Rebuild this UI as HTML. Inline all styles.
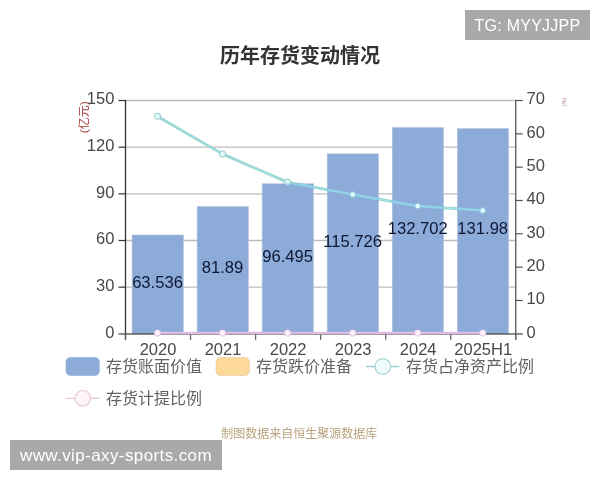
<!DOCTYPE html>
<html lang="zh"><head><meta charset="utf-8"><title>历年存货变动情况</title>
<style>
html,body{margin:0;padding:0;background:#fff;}
body{width:600px;height:480px;position:relative;overflow:hidden;font-family:"Liberation Sans","Noto Sans CJK SC",sans-serif;}
svg text{font-family:"Liberation Sans","Noto Sans CJK SC",sans-serif;}
.wm{position:absolute;background:#a9a9a9;color:#fff;font-size:16px;line-height:32px;height:30px;text-align:center;white-space:nowrap;}
#wm1{left:465px;top:10px;width:125px;letter-spacing:0.25px;}
#wm2{left:10px;top:440px;width:212px;font-size:17px;letter-spacing:0.4px;line-height:31px;}
</style></head><body>
<svg width="600" height="480" viewBox="0 0 600 480" style="position:absolute;left:0;top:0">
<rect width="600" height="480" fill="#fff"/>
<text x="300" y="63.4" text-anchor="middle" font-size="20" font-weight="bold" fill="#333" class="cj">历年存货变动情况</text>
<line x1="125.5" x2="515.75" y1="100.50" y2="100.50" stroke="#bcbcbc" stroke-width="1.3"/>
<line x1="125.5" x2="515.75" y1="147.16" y2="147.16" stroke="#bcbcbc" stroke-width="1.3"/>
<line x1="125.5" x2="515.75" y1="193.82" y2="193.82" stroke="#bcbcbc" stroke-width="1.3"/>
<line x1="125.5" x2="515.75" y1="240.48" y2="240.48" stroke="#bcbcbc" stroke-width="1.3"/>
<line x1="125.5" x2="515.75" y1="287.14" y2="287.14" stroke="#bcbcbc" stroke-width="1.3"/>
<rect x="132.07" y="234.98" width="51.3" height="98.82" fill="#8dabd9" stroke="#b9c6dc" stroke-width="0.6"/>
<rect x="197.11" y="206.43" width="51.3" height="127.37" fill="#8dabd9" stroke="#b9c6dc" stroke-width="0.6"/>
<rect x="262.15" y="183.72" width="51.3" height="150.08" fill="#8dabd9" stroke="#b9c6dc" stroke-width="0.6"/>
<rect x="327.20" y="153.81" width="51.3" height="179.99" fill="#8dabd9" stroke="#b9c6dc" stroke-width="0.6"/>
<rect x="392.24" y="127.40" width="51.3" height="206.40" fill="#8dabd9" stroke="#b9c6dc" stroke-width="0.6"/>
<rect x="457.28" y="128.53" width="51.3" height="205.27" fill="#8dabd9" stroke="#b9c6dc" stroke-width="0.6"/>
<line x1="118.5" x2="522.75" y1="334.0" y2="334.0" stroke="#000" stroke-opacity="0.6" stroke-width="1.3"/>
<line x1="125.5" x2="125.5" y1="99.9" y2="339.8" stroke="#333" stroke-width="1.3"/>
<line x1="515.75" x2="515.75" y1="99.9" y2="339.8" stroke="#555" stroke-width="1.3"/>
<line x1="118.5" x2="125.5" y1="100.50" y2="100.50" stroke="#333" stroke-width="1.2"/>
<text x="114.4" y="104.40" text-anchor="end" font-size="16.5" fill="#484848">150</text>
<line x1="118.5" x2="125.5" y1="147.16" y2="147.16" stroke="#333" stroke-width="1.2"/>
<text x="114.4" y="151.06" text-anchor="end" font-size="16.5" fill="#484848">120</text>
<line x1="118.5" x2="125.5" y1="193.82" y2="193.82" stroke="#333" stroke-width="1.2"/>
<text x="114.4" y="197.72" text-anchor="end" font-size="16.5" fill="#484848">90</text>
<line x1="118.5" x2="125.5" y1="240.48" y2="240.48" stroke="#333" stroke-width="1.2"/>
<text x="114.4" y="244.38" text-anchor="end" font-size="16.5" fill="#484848">60</text>
<line x1="118.5" x2="125.5" y1="287.14" y2="287.14" stroke="#333" stroke-width="1.2"/>
<text x="114.4" y="291.04" text-anchor="end" font-size="16.5" fill="#484848">30</text>
<text x="114.4" y="337.70" text-anchor="end" font-size="16.5" fill="#484848">0</text>
<line x1="515.75" x2="522.75" y1="100.50" y2="100.50" stroke="#555" stroke-width="1.2"/>
<text x="526.6" y="104.40" font-size="16.5" fill="#484848">70</text>
<line x1="515.75" x2="522.75" y1="133.83" y2="133.83" stroke="#555" stroke-width="1.2"/>
<text x="526.6" y="137.73" font-size="16.5" fill="#484848">60</text>
<line x1="515.75" x2="522.75" y1="167.16" y2="167.16" stroke="#555" stroke-width="1.2"/>
<text x="526.6" y="171.06" font-size="16.5" fill="#484848">50</text>
<line x1="515.75" x2="522.75" y1="200.49" y2="200.49" stroke="#555" stroke-width="1.2"/>
<text x="526.6" y="204.39" font-size="16.5" fill="#484848">40</text>
<line x1="515.75" x2="522.75" y1="233.81" y2="233.81" stroke="#555" stroke-width="1.2"/>
<text x="526.6" y="237.71" font-size="16.5" fill="#484848">30</text>
<line x1="515.75" x2="522.75" y1="267.14" y2="267.14" stroke="#555" stroke-width="1.2"/>
<text x="526.6" y="271.04" font-size="16.5" fill="#484848">20</text>
<line x1="515.75" x2="522.75" y1="300.47" y2="300.47" stroke="#555" stroke-width="1.2"/>
<text x="526.6" y="304.37" font-size="16.5" fill="#484848">10</text>
<text x="526.6" y="337.70" font-size="16.5" fill="#484848">0</text>
<line x1="125.50" x2="125.50" y1="333.8" y2="339.8" stroke="#666" stroke-width="1.3"/>
<line x1="190.54" x2="190.54" y1="333.8" y2="339.8" stroke="#666" stroke-width="1.3"/>
<line x1="255.58" x2="255.58" y1="333.8" y2="339.8" stroke="#666" stroke-width="1.3"/>
<line x1="320.62" x2="320.62" y1="333.8" y2="339.8" stroke="#666" stroke-width="1.3"/>
<line x1="385.67" x2="385.67" y1="333.8" y2="339.8" stroke="#666" stroke-width="1.3"/>
<line x1="450.71" x2="450.71" y1="333.8" y2="339.8" stroke="#666" stroke-width="1.3"/>
<line x1="515.75" x2="515.75" y1="333.8" y2="339.8" stroke="#666" stroke-width="1.3"/>
<text x="158.02" y="355.3" text-anchor="middle" font-size="16.5" fill="#484848">2020</text>
<text x="223.06" y="355.3" text-anchor="middle" font-size="16.5" fill="#484848">2021</text>
<text x="288.10" y="355.3" text-anchor="middle" font-size="16.5" fill="#484848">2022</text>
<text x="353.15" y="355.3" text-anchor="middle" font-size="16.5" fill="#484848">2023</text>
<text x="418.19" y="355.3" text-anchor="middle" font-size="16.5" fill="#484848">2024</text>
<text x="483.23" y="355.3" text-anchor="middle" font-size="16.5" fill="#484848">2025H1</text>
<text x="157.52" y="287.69" text-anchor="middle" font-size="16.6" fill="#0d1733">63.536</text>
<text x="222.56" y="273.42" text-anchor="middle" font-size="16.6" fill="#0d1733">81.89</text>
<text x="287.60" y="262.06" text-anchor="middle" font-size="16.6" fill="#0d1733">96.495</text>
<text x="352.65" y="247.10" text-anchor="middle" font-size="16.6" fill="#0d1733">115.726</text>
<text x="417.69" y="233.90" text-anchor="middle" font-size="16.6" fill="#0d1733">132.702</text>
<text x="482.73" y="234.46" text-anchor="middle" font-size="16.6" fill="#0d1733">131.98</text>
<polyline points="157.52,333.00 222.56,333.00 287.60,333.00 352.65,333.00 417.69,333.00 482.73,333.00" fill="none" stroke="#dfbce1" stroke-width="2.6"/>
<circle cx="157.52" cy="333.00" r="3.2" fill="#fdf3fb" stroke="#dfbce1" stroke-width="0.9"/>
<circle cx="222.56" cy="333.00" r="3.2" fill="#fdf3fb" stroke="#dfbce1" stroke-width="0.9"/>
<circle cx="287.60" cy="333.00" r="3.2" fill="#fdf3fb" stroke="#dfbce1" stroke-width="0.9"/>
<circle cx="352.65" cy="333.00" r="3.2" fill="#fdf3fb" stroke="#dfbce1" stroke-width="0.9"/>
<circle cx="417.69" cy="333.00" r="3.2" fill="#fdf3fb" stroke="#dfbce1" stroke-width="0.9"/>
<circle cx="482.73" cy="333.00" r="3.2" fill="#fdf3fb" stroke="#dfbce1" stroke-width="0.9"/>
<polyline points="157.52,116.30 222.56,154.00 287.60,182.30 352.65,194.50 417.69,206.00 482.73,210.50" fill="none" stroke="#83c4c2" stroke-width="2.6" stroke-linejoin="round"/>
<polyline points="157.52,116.30 222.56,154.00 287.60,182.30 352.65,194.50 417.69,206.00 482.73,210.50" fill="none" stroke="#a4e6e4" stroke-width="1.3" stroke-linejoin="round"/>
<circle cx="157.52" cy="116.30" r="3.1" fill="#dcfbfb" stroke="#8cc4c2" stroke-width="0.9"/>
<circle cx="222.56" cy="154.00" r="3.1" fill="#dcfbfb" stroke="#8cc4c2" stroke-width="0.9"/>
<circle cx="287.60" cy="182.30" r="3.1" fill="#dcfbfb" stroke="#8cc4c2" stroke-width="0.9"/>
<circle cx="352.65" cy="194.50" r="3.1" fill="#dcfbfb" stroke="#8cc4c2" stroke-width="0.9"/>
<circle cx="417.69" cy="206.00" r="3.1" fill="#dcfbfb" stroke="#8cc4c2" stroke-width="0.9"/>
<circle cx="482.73" cy="210.50" r="3.1" fill="#dcfbfb" stroke="#8cc4c2" stroke-width="0.9"/>
<clipPath id="barclip">
<rect x="131.72" y="234.98" width="51.7" height="98.82"/>
<rect x="196.76" y="206.43" width="51.7" height="127.37"/>
<rect x="261.80" y="183.72" width="51.7" height="150.08"/>
<rect x="326.85" y="153.81" width="51.7" height="179.99"/>
<rect x="391.89" y="127.40" width="51.7" height="206.40"/>
<rect x="456.93" y="128.53" width="51.7" height="205.27"/>
</clipPath>
<g clip-path="url(#barclip)">
<polyline points="157.52,116.30 222.56,154.00 287.60,182.30 352.65,194.50 417.69,206.00 482.73,210.50" fill="none" stroke="#8dabd9" stroke-width="4"/>
<polyline points="157.52,116.30 222.56,154.00 287.60,182.30 352.65,194.50 417.69,206.00 482.73,210.50" fill="none" stroke="#8fd3e6" stroke-width="2.5" stroke-linejoin="round"/>
<circle cx="157.52" cy="116.30" r="3.2" fill="#8fbfe0"/>
<circle cx="157.52" cy="116.30" r="2.3" fill="#e2ffff"/>
<circle cx="222.56" cy="154.00" r="3.2" fill="#8fbfe0"/>
<circle cx="222.56" cy="154.00" r="2.3" fill="#e2ffff"/>
<circle cx="287.60" cy="182.30" r="3.2" fill="#8fbfe0"/>
<circle cx="287.60" cy="182.30" r="2.3" fill="#e2ffff"/>
<circle cx="352.65" cy="194.50" r="3.2" fill="#8fbfe0"/>
<circle cx="352.65" cy="194.50" r="2.3" fill="#e2ffff"/>
<circle cx="417.69" cy="206.00" r="3.2" fill="#8fbfe0"/>
<circle cx="417.69" cy="206.00" r="2.3" fill="#e2ffff"/>
<circle cx="482.73" cy="210.50" r="3.2" fill="#8fbfe0"/>
<circle cx="482.73" cy="210.50" r="2.3" fill="#e2ffff"/>
</g>
<text transform="translate(88.2,117.3) rotate(-90)" text-anchor="middle" font-size="11.3" fill="#a83a3a" textLength="32" lengthAdjust="spacingAndGlyphs" class="cj">(亿元)</text>
<text transform="translate(566.3,102) rotate(-90)" text-anchor="middle" font-size="5" textLength="8" lengthAdjust="spacingAndGlyphs" fill="#b08a8a" class="cj">(%)</text>
<rect x="66" y="357.50" width="33.4" height="18.0" rx="4.5" fill="#8dabd9" stroke="#8dabd9" stroke-width="0.6"/>
<text x="106" y="372.30" font-size="16" fill="#626262" class="cj">存货账面价值</text>
<rect x="216" y="357.50" width="33.4" height="18.0" rx="4.5" fill="#fcd89b" stroke="#e6c795" stroke-width="0.6"/>
<text x="256" y="372.30" font-size="16" fill="#626262" class="cj">存货跌价准备</text>
<line x1="366" x2="399.4" y1="366.5" y2="366.5" stroke="#9fd0cd" stroke-width="1.3"/>
<circle cx="382.8" cy="366.5" r="7.8" fill="#eefcfb" stroke="#9fd0cd" stroke-width="1.1"/>
<text x="406" y="372.30" font-size="16" fill="#626262" class="cj">存货占净资产比例</text>
<line x1="66" x2="99.4" y1="398.3" y2="398.3" stroke="#e6c6d8" stroke-width="1.3"/>
<circle cx="82.8" cy="398.3" r="7.8" fill="#fdf5fa" stroke="#e6c6d8" stroke-width="1.1"/>
<text x="106" y="404.10" font-size="16" fill="#626262" class="cj">存货计提比例</text>
<text x="299.2" y="438" text-anchor="middle" font-size="12" fill="#b7a27e" class="cj">制图数据来自恒生聚源数据库</text>
</svg>
<div class="wm" id="wm1">TG: MYYJJPP</div>
<div class="wm" id="wm2">www.vip-axy-sports.com</div>
</body></html>
